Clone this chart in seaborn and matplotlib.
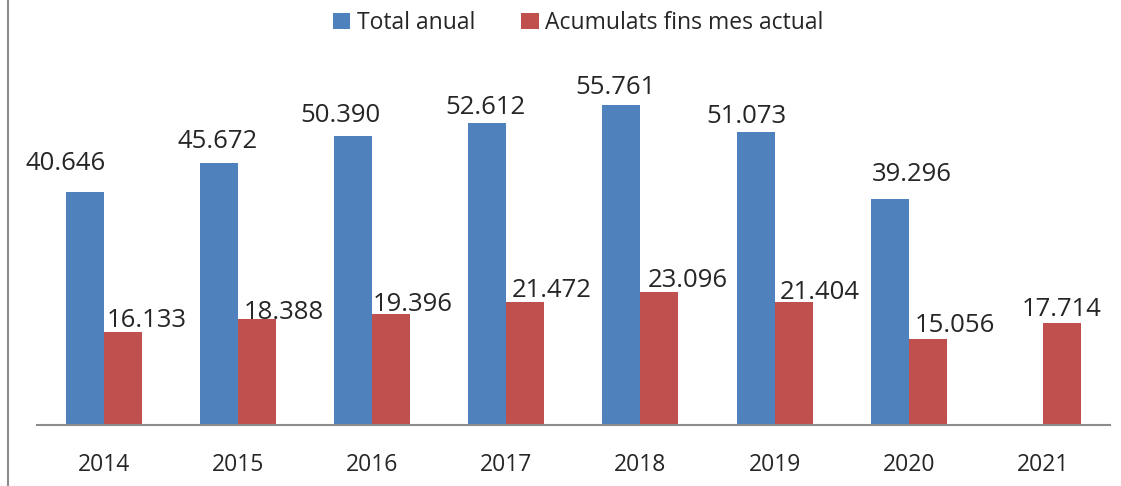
import numpy as np
import pandas as pd
import matplotlib.pyplot as plt
import seaborn as sns
from matplotlib.lines import Line2D

years = ["2014", "2015", "2016", "2017", "2018", "2019", "2020", "2021"]
total_anual = [40646, 45672, 50390, 52612, 55761, 51073, 39296, np.nan]
acumulats = [16133, 18388, 19396, 21472, 23096, 21404, 15056, 17714]
series = ["Total anual", "Acumulats fins mes actual"]
colors = ["#4F81BD", "#C0504D"]

# label nudges (pixels): horizontal shift and gap above bar top
nudge_x = [[-19, -2, -13, -2, -6, -9, 22, 0], [24, 27, 21, 26, 28, 26, 27, 0]]
nudge_y = [[22, 15, 14, 9, 11, 9, 18, 0], [5, 0, 3, 5, 5, 3, 7, 7]]


def fmt(v):
    return f"{int(v):,}".replace(",", ".")


df = pd.DataFrame({
    "year": years * 2,
    "value": total_anual + acumulats,
    "serie": [series[0]] * len(years) + [series[1]] * len(years),
})

sns.set_style("white")
plt.rcParams["font.family"] = ["Open Sans", "DejaVu Sans"]

fig = plt.figure(figsize=(11.21, 4.86), dpi=100)
ax = fig.add_axes([0.033, 0.1255, 0.957, 0.7925])

sns.barplot(data=df, x="year", y="value", hue="serie", palette=colors,
            width=0.567, gap=0, ax=ax, saturation=1, legend=True, linewidth=0)

ax.set_ylim(0, 67100)
ax.set_xlim(-0.5, len(years) - 0.5)
ax.set_yticks([])
ax.set_xlabel("")
ax.set_ylabel("")
for s in ["top", "left", "right"]:
    ax.spines[s].set_visible(False)
ax.spines["bottom"].set_color("#8c8c8c")
ax.spines["bottom"].set_linewidth(1.5)
ax.tick_params(axis="x", length=0, pad=20, labelsize=16.5)

# value labels
px = 72 / fig.dpi
for k, cont in enumerate(ax.containers):
    for i, bar in enumerate(cont):
        h = bar.get_height()
        if np.isnan(h) or h == 0:
            continue
        ax.annotate(fmt(h), (bar.get_x() + bar.get_width() / 2, h),
                    xytext=(nudge_x[k][i] * px, nudge_y[k][i] * px),
                    textcoords="offset points",
                    ha="center", va="baseline", fontsize=18.5)

ax.legend(handles=ax.get_legend().legend_handles, labels=series,
          loc="upper center", bbox_to_anchor=(0.516, 1.02), bbox_transform=fig.transFigure,
          ncol=2, frameon=False, fontsize=16.5, handlelength=0.75, handleheight=0.75,
          handletextpad=0.3, columnspacing=2.0)

fig.add_artist(Line2D([8 / 1121, 8 / 1121], [0, 1], transform=fig.transFigure,
                      color="#8c8c8c", lw=1.5))

fig.savefig("out.png", dpi=100)
